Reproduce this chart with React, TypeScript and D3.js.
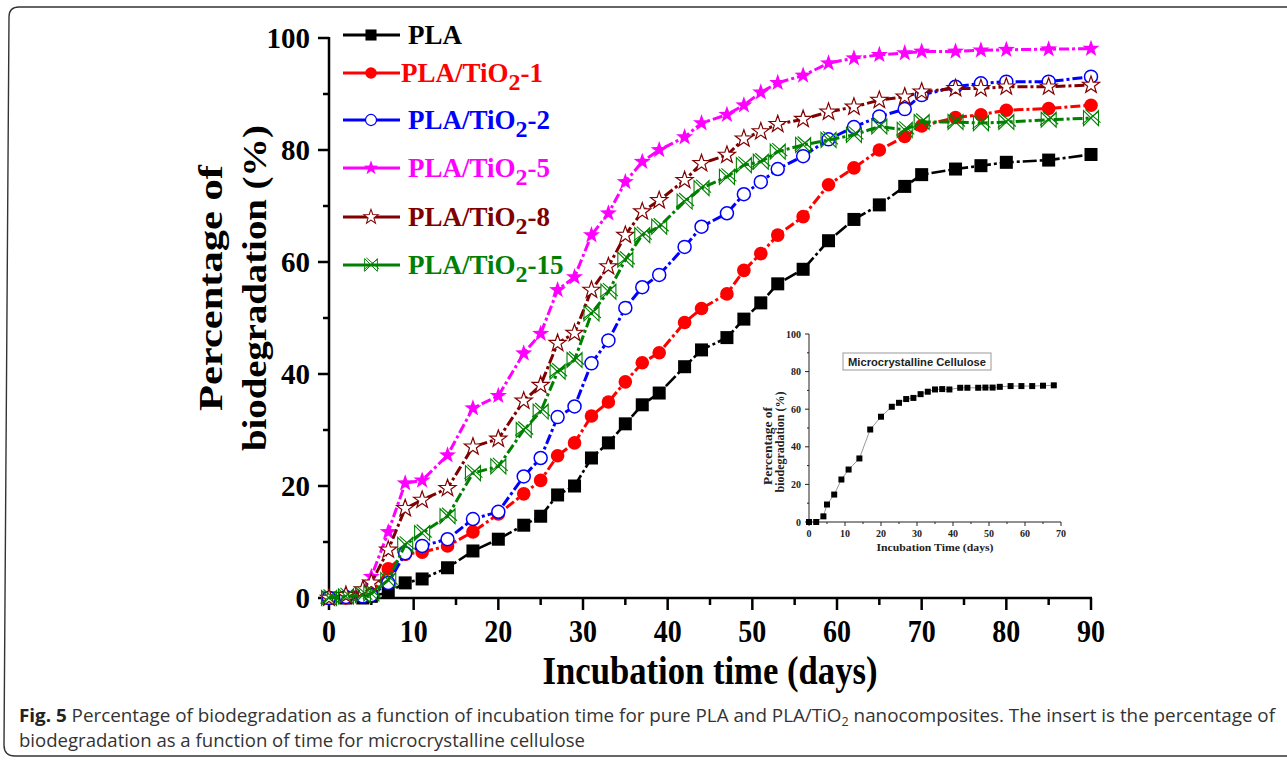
import React from "react";
import * as d3 from "d3";

const days = [0, 2, 4, 5, 7, 9, 11, 14, 17, 20, 23, 25, 27, 29, 31, 33, 35, 37, 39, 42, 44, 47, 49, 51, 53, 56, 59, 62, 65, 68, 70, 74, 77, 80, 85, 90];

const plaValues = [0, 0, 0, 0.3, 1.0, 2.7, 3.4, 5.4, 8.4, 10.5, 13, 14.6, 18.4, 20, 25, 27.7, 31.1, 34.5, 36.6, 41.3, 44.3, 46.5, 49.8, 52.7, 56.1, 58.7, 63.8, 67.6, 70.2, 73.5, 75.6, 76.6, 77.2, 77.8, 78.2, 79.2];
const tio1Values = [0, 0, 0.3, 0.6, 5.2, 7.8, 8.2, 9.3, 11.8, 15, 18.6, 21, 25.4, 27.7, 32.5, 35, 38.6, 42, 43.8, 49.2, 51.7, 54.3, 58.5, 61.5, 64.8, 68.1, 73.8, 76.8, 80, 82.4, 84.3, 85.8, 86.3, 87.1, 87.4, 88];
const tio2Values = [0, 0.2, 0.3, 0.5, 2.7, 8, 9.3, 10.5, 14.1, 15.4, 21.7, 25, 32.3, 34.2, 41.9, 46, 51.8, 55.5, 57.7, 62.7, 66.3, 68.7, 72.1, 74.3, 76.6, 78.9, 81.9, 84.1, 86, 87.3, 89.8, 91.3, 91.9, 92.2, 92.2, 93.1];
const tio5Values = [0, 0.5, 1.5, 3.8, 11.8, 20.5, 21, 25.5, 33.9, 36.1, 43.7, 47.2, 55, 57.3, 64.8, 68.7, 74.3, 77.9, 80, 82.3, 84.8, 86.3, 88, 90.3, 92, 93.3, 95.5, 96.4, 97, 97.3, 97.6, 97.6, 97.8, 97.9, 98, 98.1];
const tio8Values = [0, 0.5, 1.5, 2.7, 8.6, 16, 17.5, 19.6, 27, 28.4, 35.2, 38, 45.5, 47.3, 55, 59.2, 64.8, 69, 71, 74.6, 77.6, 79.1, 82, 83.3, 84.6, 85.5, 86.8, 87.7, 88.9, 89.5, 90.4, 91, 91, 91.3, 91.3, 91.6];
const tio15Values = [0, 0.3, 0.5, 0.8, 3.2, 9.5, 11.6, 14.6, 22.3, 23.5, 30, 33.3, 40.4, 42.5, 50.8, 54.7, 60.4, 64.8, 66.3, 70.8, 73.2, 75.2, 77.3, 77.9, 79.7, 80.9, 81.8, 82.7, 84.2, 83.6, 85, 85, 84.8, 85, 85.4, 85.7];

const seriesNames = ["PLA", "PLA/TiO2-1", "PLA/TiO2-2", "PLA/TiO2-5", "PLA/TiO2-8", "PLA/TiO2-15"];
const seriesColors = ["#000000", "#ff0000", "#0000ff", "#ff00ff", "#800000", "#008000"];
const seriesMarkers = ["square", "circle", "openCircle", "star", "openStar", "bowtie"];
const seriesValues = [plaValues, tio1Values, tio2Values, tio5Values, tio8Values, tio15Values];

const insetDays = [0, 2, 4, 5, 7, 9, 11, 14, 17, 20, 23, 25, 27, 29, 31, 33, 35, 37, 39, 42, 44, 47, 49, 51, 53, 56, 59, 62, 65, 68];
const insetValues = [0, 0, 3, 9.3, 14.6, 22.6, 27.9, 33.8, 49.2, 56, 61.3, 63.4, 65.4, 66, 68, 69.3, 70.5, 70.7, 70.5, 71.4, 71.4, 71.4, 71.5, 71.5, 71.9, 72.3, 72.3, 72.3, 72.5, 72.7];

const xTicks = [0, 10, 20, 30, 40, 50, 60, 70, 80, 90];
const yTicks = [0, 20, 40, 60, 80, 100];
const insetXTicks = [0, 10, 20, 30, 40, 50, 60, 70];
const insetYTicks = [0, 20, 40, 60, 80, 100];

const SERIF = "'Times New Roman', 'Liberation Serif', serif";
const SANS = "Arial, 'Liberation Sans', sans-serif";
const CAPTION = "'Open Sans', sans-serif";

function starPath(R: number) {
  const r = R * 0.4;
  const pts: string[] = [];
  for (let i = 0; i < 10; i++) {
    const rad = i % 2 === 0 ? R : r;
    const a = -Math.PI / 2 + (i * Math.PI) / 5;
    pts.push(`${(rad * Math.cos(a)).toFixed(2)},${(rad * Math.sin(a)).toFixed(2)}`);
  }
  return "M" + pts.join("L") + "Z";
}

function Marker({ kind, color, x, y, scale = 1 }: { kind: string; color: string; x: number; y: number; scale?: number }) {
  const t = `translate(${x},${y}) scale(${scale})`;
  if (kind === "square") return <rect transform={t} x={-6.5} y={-6.5} width={13} height={13} fill={color} />;
  if (kind === "circle") return <circle transform={t} r={6.8} fill={color} />;
  if (kind === "openCircle") return <circle transform={t} r={6.5} fill="#fff" stroke={color} strokeWidth={1.5} />;
  if (kind === "star") return <path transform={t} d={starPath(9)} fill={color} />;
  if (kind === "openStar") return <path transform={t} d={starPath(9)} fill="#fff" stroke={color} strokeWidth={1.2} />;
  const s = 7.5;
  return (
    <g transform={t} fill="none" stroke={color} strokeWidth={1.1}>
      <path d={`M${-s},${-s}L${s},${s}L${s},${-s}L${-s},${s}Z`} />
      <path d={`M${-s + 2},${-s - 1}L${s + 2},${s - 3}M${-s - 1},${s - 2}L${s},${-s + 1}`} />
    </g>
  );
}

export default function App() {
  const x = d3.scaleLinear().domain([0, 90]).range([329, 1091]);
  const y = d3.scaleLinear().domain([0, 100]).range([598, 38]);
  const ix = d3.scaleLinear().domain([0, 70]).range([809, 1061]);
  const iy = d3.scaleLinear().domain([0, 100]).range([522, 334]);

  const line = d3.line<number>().x((_, i) => x(days[i])).y((d) => y(d));
  const insetLine = d3.line<number>().x((_, i) => ix(insetDays[i])).y((d) => iy(d));

  const dashes = ["14,3,3,3", "10,3,3,3", "10,3,3,3", "10,3,3,3", "10,3,3,3", "10,3,3,3"];
  const xMinor = d3.range(5, 90, 10);
  const yMinor = d3.range(10, 100, 20);
  const legendY = [35, 73, 120, 168, 217, 265];

  const legendLabel = (name: string, color: string, ly: number) => {
    if (name === "PLA") {
      return (
        <text x={408} y={ly + 9} fontFamily={SERIF} fontWeight="bold" fontSize={27} fill={color}>
          PLA
        </text>
      );
    }
    const suffix = name.split("TiO2")[1];
    return (
      <text x={name.endsWith("-1") ? 401 : 408} y={ly + 9} fontFamily={SERIF} fontWeight="bold" fontSize={27} fill={color}>
        PLA/TiO
        <tspan dy={8} fontSize={24}>2</tspan>
        <tspan dy={-8}>{suffix}</tspan>
      </text>
    );
  };

  return (
    <svg width={1287} height={760} style={{ position: "absolute", left: 0, top: 0, background: "#fff" }}>
      <path d="M1295,7 H19 Q9,7 9,17 L4,745 Q4,756 15,756 H1295" fill="none" stroke="#333" strokeWidth={1.4} />

      <g stroke="#000" strokeWidth={2.5}>
        <line x1={x(0)} x2={x(0)} y1={y(100) - 1} y2={y(0) + 1} />
        <line x1={x(0) - 1} x2={x(90) + 1} y1={y(0)} y2={y(0)} />
        {yTicks.map((t) => (
          <line key={"yt" + t} x1={x(0) - 11} x2={x(0)} y1={y(t)} y2={y(t)} />
        ))}
        {yMinor.map((t) => (
          <line key={"ym" + t} x1={x(0) - 6} x2={x(0)} y1={y(t)} y2={y(t)} />
        ))}
        {xTicks.map((t) => (
          <line key={"xt" + t} x1={x(t)} x2={x(t)} y1={y(0)} y2={y(0) + 12} />
        ))}
        {xMinor.map((t) => (
          <line key={"xm" + t} x1={x(t)} x2={x(t)} y1={y(0)} y2={y(0) + 7} />
        ))}
      </g>
      {yTicks.map((t) => (
        <text key={"yl" + t} x={310} y={y(t) + 10} textAnchor="end" fontFamily={SERIF} fontWeight="bold" fontSize={29}>
          {t}
        </text>
      ))}
      {xTicks.map((t) => (
        <text
          key={"xl" + t}
          transform={`translate(${x(t)},${642}) scale(1,1.15)`}
          textAnchor="middle"
          fontFamily={SERIF}
          fontWeight="bold"
          fontSize={28}
        >
          {t}
        </text>
      ))}
      <text
        transform="translate(710,684) scale(1,1.15)"
        textAnchor="middle"
        fontFamily={SERIF}
        fontWeight="bold"
        fontSize={35}
        textLength={335}
        lengthAdjust="spacingAndGlyphs"
      >
        Incubation time (days)
      </text>
      <text
        transform="translate(222,288) rotate(-90)"
        textAnchor="middle"
        fontFamily={SERIF}
        fontWeight="bold"
        fontSize={34}
        textLength={246}
        lengthAdjust="spacingAndGlyphs"
      >
        Percentage of
      </text>
      <text
        transform="translate(266,288) rotate(-90)"
        textAnchor="middle"
        fontFamily={SERIF}
        fontWeight="bold"
        fontSize={34}
        textLength={326}
        lengthAdjust="spacingAndGlyphs"
      >
        biodegradation (%)
      </text>

      {seriesValues.map((vals, si) => (
        <g key={"s" + si}>
          <path
            d={line(vals) || ""}
            fill="none"
            stroke={seriesColors[si]}
            strokeWidth={si === 0 ? 2.6 : 3}
            strokeDasharray={dashes[si]}
          />
          {vals.map((v, i) => (
            <Marker key={i} kind={seriesMarkers[si]} color={seriesColors[si]} x={x(days[i])} y={y(v)} />
          ))}
        </g>
      ))}

      {seriesNames.map((name, i) => (
        <g key={"lg" + i}>
          <line x1={343} x2={400} y1={legendY[i]} y2={legendY[i]} stroke={seriesColors[i]} strokeWidth={3} />
          <Marker kind={seriesMarkers[i]} color={seriesColors[i]} x={371} y={legendY[i]} scale={0.85} />
          {legendLabel(name, seriesColors[i], legendY[i])}
        </g>
      ))}

      <g>
        <g stroke="#222" strokeWidth={1}>
          <line x1={ix(0)} x2={ix(0)} y1={iy(100)} y2={iy(0)} />
          <line x1={ix(0)} x2={ix(70)} y1={iy(0)} y2={iy(0)} />
          {insetYTicks.map((t) => (
            <line key={"iyt" + t} x1={ix(0) - 4} x2={ix(0)} y1={iy(t)} y2={iy(t)} />
          ))}
          {d3.range(10, 100, 20).map((t) => (
            <line key={"iym" + t} x1={ix(0) - 2} x2={ix(0)} y1={iy(t)} y2={iy(t)} />
          ))}
          {insetXTicks.map((t) => (
            <line key={"ixt" + t} x1={ix(t)} x2={ix(t)} y1={iy(0)} y2={iy(0) + 4} />
          ))}
          {d3.range(5, 70, 10).map((t) => (
            <line key={"ixm" + t} x1={ix(t)} x2={ix(t)} y1={iy(0)} y2={iy(0) + 2} />
          ))}
        </g>
        {insetYTicks.map((t) => (
          <text key={"iyl" + t} x={801} y={iy(t) + 3.5} textAnchor="end" fontFamily={SERIF} fontWeight="bold" fontSize={10} fill="#222">
            {t}
          </text>
        ))}
        {insetXTicks.map((t) => (
          <text key={"ixl" + t} x={ix(t)} y={537} textAnchor="middle" fontFamily={SERIF} fontWeight="bold" fontSize={10} fill="#222">
            {t}
          </text>
        ))}
        <text x={935} y={551} textAnchor="middle" fontFamily={SERIF} fontWeight="bold" fontSize={11} fill="#222" textLength={117} lengthAdjust="spacingAndGlyphs">
          Incubation Time (days)
        </text>
        <text transform="translate(772,446) rotate(-90)" textAnchor="middle" fontFamily={SERIF} fontWeight="bold" fontSize={12} fill="#222" textLength={78} lengthAdjust="spacingAndGlyphs">
          Percentage of
        </text>
        <text transform="translate(784,442) rotate(-90)" textAnchor="middle" fontFamily={SERIF} fontWeight="bold" fontSize={12} fill="#222" textLength={101} lengthAdjust="spacingAndGlyphs">
          biodegradation (%)
        </text>
        <rect x={843} y={353} width={148} height={17} fill="#fff" stroke="#999" strokeWidth={1} />
        <text x={917} y={366} textAnchor="middle" fontFamily={SANS} fontWeight="bold" fontSize={11} fill="#222" textLength={138} lengthAdjust="spacingAndGlyphs">
          Microcrystalline Cellulose
        </text>
        <path d={insetLine(insetValues) || ""} fill="none" stroke="#999" strokeWidth={1} />
        {insetValues.map((v, i) => (
          <rect key={"ip" + i} x={ix(insetDays[i]) - 3} y={iy(v) - 3} width={6} height={6} fill="#000" />
        ))}
      </g>

      <text x={19} y={722} fontFamily={CAPTION} fontSize={18} fill="#333" textLength={1256} lengthAdjust="spacingAndGlyphs">
        <tspan fontWeight="bold" fill="#222">Fig. 5</tspan> Percentage of biodegradation as a function of incubation time for pure PLA and PLA/TiO
        <tspan dy={4} fontSize={12}>2</tspan>
        <tspan dy={-4}> nanocomposites. The insert is the percentage of</tspan>
      </text>
      <text x={19} y={747} fontFamily={CAPTION} fontSize={18} fill="#333" textLength={566} lengthAdjust="spacingAndGlyphs">
        biodegradation as a function of time for microcrystalline cellulose
      </text>
    </svg>
  );
}
